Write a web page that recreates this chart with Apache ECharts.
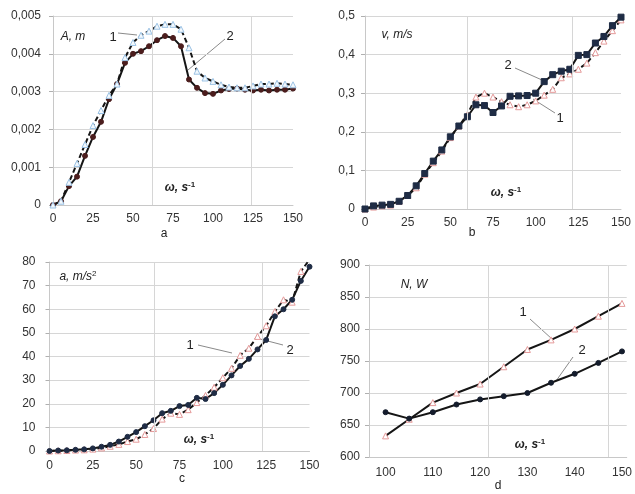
<!DOCTYPE html>
<html>
<head>
<meta charset="utf-8">
<script src="https://cdn.jsdelivr.net/npm/echarts@6/dist/echarts.min.js"></script>
<style>
  html, body { margin: 0; padding: 0; background: #fff; }
  #chart { width: 635px; height: 494px; }
</style>
</head>
<body>
<div id="chart"></div>
<script>
// omega values, s^-1
let omega = [0, 5, 10, 15, 20, 25, 30, 35, 40, 45, 50, 55, 60, 65, 70, 75, 80, 85, 90, 95, 100,
             105, 110, 115, 120, 125, 130, 135, 140, 145, 150];
let omegaD = [100, 105, 110, 115, 120, 125, 130, 135, 140, 145, 150];

// a) amplitude A, m
let ampl1 = [0, 0.0001, 0.0006, 0.0011, 0.0016, 0.0021, 0.0025, 0.0029, 0.0032, 0.0039, 0.0043,
             0.00449, 0.0046, 0.00473, 0.00478, 0.00478, 0.00465, 0.00416, 0.00354, 0.00336, 0.00327,
             0.00318, 0.00312, 0.0031, 0.0031, 0.00315, 0.0032, 0.0032, 0.00322, 0.0032, 0.00318];
let ampl2 = [0, 0.0001, 0.0005, 0.00075, 0.0013, 0.0018, 0.0022, 0.0028, 0.0032, 0.00376, 0.004,
             0.00407, 0.0042, 0.00436, 0.00447, 0.00442, 0.0042, 0.00332, 0.0031, 0.00296, 0.00294,
             0.00303, 0.00307, 0.00308, 0.00305, 0.00303, 0.00305, 0.00303, 0.00305, 0.00305, 0.00308];

// b) velocity v, m/s
let vel1 = [0, 0.005, 0.008, 0.01, 0.02, 0.035, 0.055, 0.09, 0.12, 0.15, 0.185,
            0.215, 0.245, 0.29, 0.3, 0.29, 0.278, 0.27, 0.265, 0.27, 0.28,
            0.295, 0.31, 0.34, 0.35, 0.362, 0.378, 0.405, 0.435, 0.462, 0.49];
let vel2 = [0, 0.008, 0.01, 0.012, 0.02, 0.035, 0.06, 0.092, 0.124, 0.153, 0.187,
            0.215, 0.239, 0.27, 0.268, 0.25, 0.267, 0.292, 0.293, 0.294, 0.3,
            0.33, 0.348, 0.357, 0.362, 0.398, 0.4, 0.43, 0.447, 0.475, 0.497];

// c) acceleration a, m/s2
let acc1 = [0, 0.1, 0.2, 0.4, 0.5, 0.8, 1.3, 2, 2.8, 4, 5,
            7, 9.5, 13.5, 16, 15.5, 17.5, 20.5, 23.5, 27, 31,
            35, 40.5, 43.5, 48.5, 53, 59, 64, 63, 76, 81];
let acc2 = [0, 0.2, 0.3, 0.5, 0.7, 1.1, 1.8, 2.6, 4, 6, 8,
            10.5, 13, 16, 17, 19, 19.5, 22.5, 22, 24.5, 28,
            32, 36, 39, 43, 47, 57, 60, 64, 72, 78];

// d) power N, W
let pow1 = [633, 659, 685, 700, 714, 741, 768, 783, 800, 820, 840];
let pow2 = [670, 660, 670, 682, 690, 695, 700, 716, 730, 747, 765];

// extra vertical gridlines (x values) for each panel
let vGridA = [62, 124];
let vGridB = [60, 121.6];
let vGridC = [60.3, 122.5];
let vGridD = [121.8, 147.1];

const FONT = 'Liberation Sans, Arial, sans-serif';
const GRID_CLR = '#d6d6d6';
const LINE_CLR = '#151515';

function pairs(xs, ys) {
    return xs.map((x, i) => [x, ys[i]]);
}

function comma(v) {
    return String(v).replace('.', ',');
}

function xAxisOf(idx, min, max, interval, margin, custom) {
    let ax = {
        type: 'value', gridIndex: idx, min: min, max: max, interval: interval,
        axisLine: {show: true, lineStyle: {color: '#c8c8c8'}},
        axisTick: {show: false},
        splitLine: {show: false},
        axisLabel: {color: '#333', fontFamily: FONT, fontSize: 12, margin: margin}
    };
    if (custom) {
        ax.axisLabel.customValues = custom;
    }
    return ax;
}

function yAxisOf(idx, min, max, interval, margin) {
    return {
        type: 'value', gridIndex: idx, min: min, max: max, interval: interval,
        axisLine: {show: true, lineStyle: {color: '#c8c8c8'}},
        axisTick: {show: true, length: 4, lineStyle: {color: '#b0b0b0'}},
        splitLine: {show: true, lineStyle: {color: GRID_CLR}},
        axisLabel: {color: '#333', fontFamily: FONT, fontSize: 12, margin: margin, formatter: comma}
    };
}

function line(idx, data, dashed, symbol, size, fill, border, vgrid) {
    let s = {
        type: 'line', xAxisIndex: idx, yAxisIndex: idx, data: data,
        symbol: symbol, symbolSize: size, showSymbol: true,
        lineStyle: {color: LINE_CLR, width: 2, type: dashed ? [5, 3] : 'solid'},
        itemStyle: {color: fill, borderColor: border, borderWidth: 1},
        animation: false
    };
    if (vgrid) {
        s.markLine = {
            silent: true, symbol: 'none', label: {show: false},
            lineStyle: {color: GRID_CLR, type: 'solid', width: 1},
            data: vgrid.map(v => ({xAxis: v}))
        };
    }
    return s;
}

function txt(x, y, text, font, align) {
    return {
        type: 'text', x: x, y: y, silent: true,
        style: {text: text, font: font || ('12px ' + FONT), fill: '#222',
                align: align || 'center', verticalAlign: 'middle'}
    };
}

function richTxt(x, y, text, base, sup) {
    return {
        type: 'text', x: x, y: y, silent: true,
        style: {
            text: text, align: 'center', verticalAlign: 'middle', fill: '#222',
            rich: {
                b: {font: base + ' ' + FONT, fill: '#222'},
                s: {font: sup + ' ' + FONT, fill: '#222', verticalAlign: 'top', padding: [0, 0, 6, 0]}
            }
        }
    };
}

function leader(x1, y1, x2, y2) {
    return {
        type: 'line', silent: true,
        shape: {x1: x1, y1: y1, x2: x2, y2: y2},
        style: {stroke: '#8a8a8a', lineWidth: 1}
    };
}

let myChart = echarts.init(document.getElementById('chart'));
let option = {
    backgroundColor: '#fff',
    animation: false,
    grid: [
        {left: 53, top: 16, width: 240, height: 189},
        {left: 365, top: 16, width: 256, height: 193},
        {left: 49.5, top: 262, width: 260, height: 189},
        {left: 369, top: 265, width: 267, height: 192}
    ],
    xAxis: [
        xAxisOf(0, 0, 150, 25, 8),
        xAxisOf(1, 0, 150, 25, 8),
        xAxisOf(2, 0, 150, 25, 9),
        xAxisOf(3, 96.5, 151, null, 10, [100, 110, 120, 130, 140, 150])
    ],
    yAxis: [
        yAxisOf(0, 0, 0.005, 0.001, 12),
        yAxisOf(1, 0, 0.5, 0.1, 10),
        yAxisOf(2, 0, 80, 10, 14),
        yAxisOf(3, 600, 900, 50, 9)
    ],
    series: [
        line(0, pairs(omega, ampl2), false, 'circle', 5, '#4b1d1d', '#4b1d1d', vGridA),
        line(0, pairs(omega, ampl1), true, 'triangle', 6, '#f2f8fd', '#9cc3e5'),
        line(1, pairs(omega, vel1), true, 'triangle', 6, '#fff', '#e59a9a', vGridB),
        line(1, pairs(omega, vel2), false, 'rect', 6, '#1f2c45', '#1f2c45'),
        line(2, pairs(omega, acc1), true, 'triangle', 6, '#fff', '#e59a9a', vGridC),
        line(2, pairs(omega, acc2), false, 'circle', 5, '#1f2c45', '#1f2c45'),
        line(3, pairs(omegaD, pow1), false, 'triangle', 6, '#fff', '#e59a9a', vGridD),
        line(3, pairs(omegaD, pow2), false, 'circle', 5, '#141c2c', '#141c2c')
    ],
    graphic: [
        // a
        txt(73, 37, 'A, m', 'italic 12px ' + FONT),
        txt(113, 37, '1', '13px ' + FONT),
        leader(118, 33, 137, 35),
        txt(230, 36, '2', '13px ' + FONT),
        leader(225, 39, 188, 70),
        richTxt(180, 188, '{b|ω, s}{s|-1}', 'bold italic 12px', 'bold 8px'),
        txt(164, 234, 'a'),
        // b
        txt(397, 35, 'v, m/s', 'italic 12px ' + FONT),
        txt(508, 65, '2', '13px ' + FONT),
        leader(515, 68, 542, 80),
        txt(560, 118, '1', '13px ' + FONT),
        leader(555, 113, 533, 99),
        richTxt(506, 193, '{b|ω, s}{s|-1}', 'bold italic 12px', 'bold 8px'),
        txt(472, 233, 'b'),
        // c
        richTxt(78, 277, '{b|a, m/s}{s|2}', 'italic 12px', '8px'),
        txt(190, 345, '1', '13px ' + FONT),
        leader(198, 345, 232, 353),
        txt(290, 350, '2', '13px ' + FONT),
        leader(283, 345, 260, 339),
        richTxt(199, 440, '{b|ω, s}{s|-1}', 'bold italic 12px', 'bold 8px'),
        txt(182, 479, 'c'),
        // d
        txt(414, 285, 'N, W', 'italic 12px ' + FONT),
        txt(523, 312, '1', '13px ' + FONT),
        leader(530, 319, 552, 339),
        txt(582, 350, '2', '13px ' + FONT),
        leader(573, 357, 556, 381),
        richTxt(530, 445, '{b|ω, s}{s|-1}', 'bold italic 12px', 'bold 8px'),
        txt(498, 486, 'd')
    ]
};
myChart.setOption(option);
</script>
</body>
</html>
